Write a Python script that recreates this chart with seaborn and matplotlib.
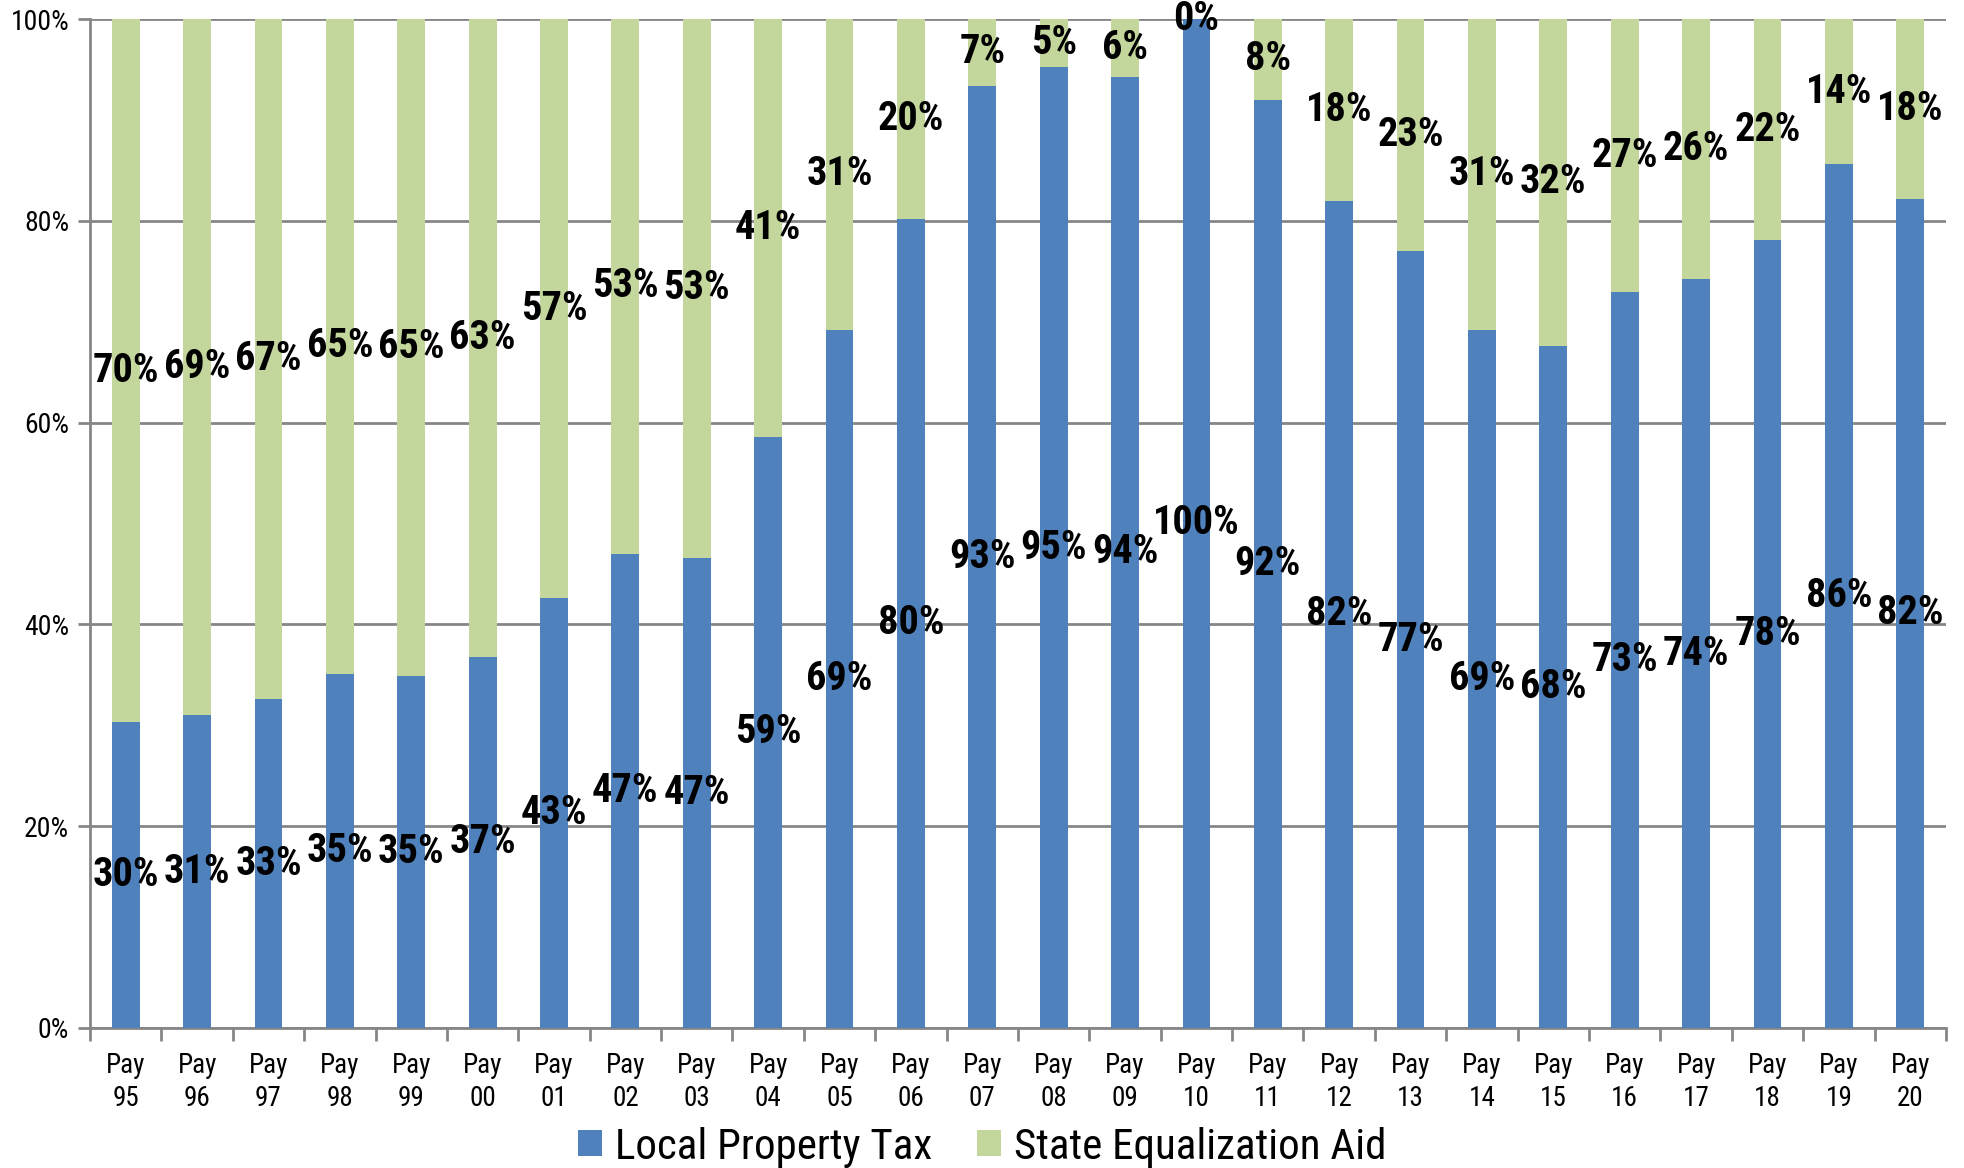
import numpy as np
import pandas as pd
import matplotlib
matplotlib.use("Agg")
import matplotlib.pyplot as plt
import seaborn as sns
from matplotlib.ticker import FixedLocator, FuncFormatter
from matplotlib.patches import Patch

# Datos
anios = ["95", "96", "97", "98", "99", "00", "01", "02", "03", "04", "05", "06", "07",
         "08", "09", "10", "11", "12", "13", "14", "15", "16", "17", "18", "19", "20"]
impuesto_local = [30.3, 31.0, 32.6, 35.1, 34.9, 36.8, 42.6, 47.0, 46.6, 58.6, 69.2, 80.2, 93.4,
                  95.2, 94.3, 100.0, 92.0, 82.0, 77.0, 69.2, 67.6, 72.9, 74.2, 78.1, 85.6, 82.2]
ayuda_estatal = [69.7, 69.0, 67.4, 64.9, 65.1, 63.2, 57.4, 53.0, 53.4, 41.4, 30.8, 19.8, 6.6,
                 4.8, 5.7, 0.0, 8.0, 18.0, 23.0, 30.8, 32.4, 27.1, 25.8, 21.9, 14.4, 17.8]
categorias = ["Pay\n" + a for a in anios]

azul = "#4F81BD"
verde = "#C3D69B"
gris = "#868686"
fuente = ["Roboto Condensed", "Roboto", "DejaVu Sans"]

sns.set_style("white")
plt.rcParams["font.family"] = fuente
plt.rcParams["text.color"] = "black"
plt.rcParams["xtick.labelcolor"] = "black"
plt.rcParams["ytick.labelcolor"] = "black"

df = pd.DataFrame({
    "categoria": categorias,
    "local": impuesto_local,
    "estatal": ayuda_estatal,
})
df["total"] = df["local"] + df["estatal"]

fig = plt.figure(figsize=(19.65, 11.68), dpi=100)
ax = fig.add_axes([0.0458, 0.1199, 0.9445, 0.8638])

# Barras apiladas: total en verde, local en azul encima
sns.barplot(data=df, x="categoria", y="total", color=verde, width=0.39,
            saturation=1, ax=ax, zorder=2, linewidth=0)
sns.barplot(data=df, x="categoria", y="local", color=azul, width=0.39,
            saturation=1, ax=ax, zorder=3, linewidth=0)

# Etiquetas centradas en cada segmento
for i, (loc, est) in enumerate(zip(df["local"], df["estatal"])):
    ax.text(i, loc / 2, f"{loc:.0f}%", ha="center", va="center", fontsize=29,
            fontweight="bold", color="black", zorder=5, clip_on=False)
    ax.text(i, loc + est / 2, f"{est:.0f}%", ha="center", va="center", fontsize=29,
            fontweight="bold", color="black", zorder=5, clip_on=False)

ax.set_ylim(0, 100)
ax.set_xlim(-0.5, len(categorias) - 0.5)
ax.yaxis.set_major_locator(FixedLocator([0, 20, 40, 60, 80, 100]))
ax.yaxis.set_major_formatter(FuncFormatter(lambda v, p: f"{v:.0f}%"))
ax.grid(axis="y", color=gris, linewidth=2, zorder=0)
ax.set_axisbelow(True)

for lado in ["top", "right"]:
    ax.spines[lado].set_visible(False)
for lado in ["left", "bottom"]:
    ax.spines[lado].set_color(gris)
    ax.spines[lado].set_linewidth(2)

ax.tick_params(axis="y", which="major", left=True, length=9, width=2, color=gris,
               labelsize=20, pad=6, labelcolor="black")
ax.tick_params(axis="x", which="major", bottom=False, labelsize=19.5, pad=14,
               labelcolor="black")
ax.xaxis.set_minor_locator(FixedLocator(np.arange(-0.5, len(categorias), 1)))
ax.tick_params(axis="x", which="minor", bottom=True, length=9, width=2, color=gris)
ax.set_xlabel("")
ax.set_ylabel("")
for t in ax.get_xticklabels():
    t.set_linespacing(1.25)

manijas = [Patch(facecolor=azul, edgecolor="none"), Patch(facecolor=verde, edgecolor="none")]
fig.legend(manijas, ["Local Property Tax", "State Equalization Aid"], loc="center",
           bbox_to_anchor=(0.5, 1 - 1147 / 1168), ncol=2, frameon=False, fontsize=31,
           handlelength=0.55, handleheight=0.55, handletextpad=0.3, columnspacing=1.05,
           labelcolor="black")

fig.savefig("out.png", dpi=100)
